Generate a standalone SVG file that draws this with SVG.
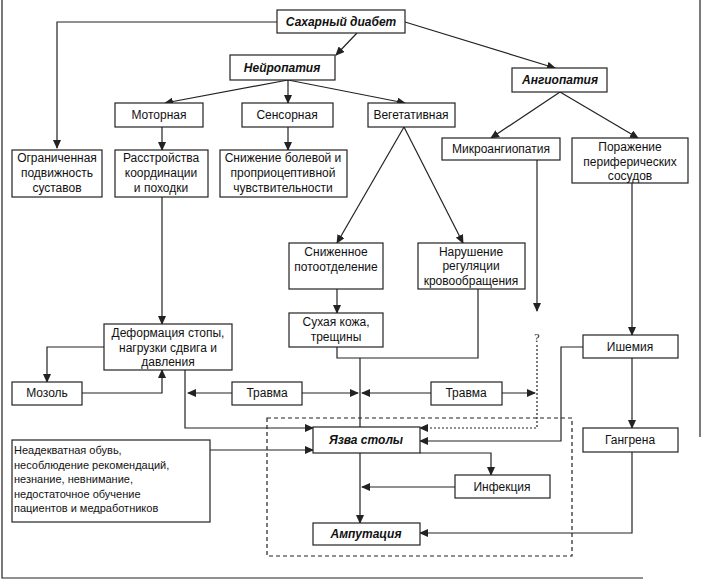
<svg xmlns="http://www.w3.org/2000/svg" width="703" height="581" viewBox="0 0 703 581">
<style>
.b{fill:#fff;stroke:#222;stroke-width:1.2}
.t{font-family:"Liberation Sans",Arial,sans-serif;font-size:12px;fill:#111;text-anchor:middle}
.bi{font-weight:bold;font-style:italic}
.l{text-anchor:start;font-size:11px}
.c{fill:none;stroke:#222;stroke-width:1.2}
.d{fill:none;stroke:#222;stroke-width:1.2;stroke-dasharray:4 3}
.ds{fill:none;stroke:#222;stroke-width:1.2;stroke-dasharray:2 2}
</style>
<defs>
<marker id="a" markerWidth="9" markerHeight="8" refX="8" refY="4" orient="auto" markerUnits="userSpaceOnUse">
<path d="M0,0 L9,4 L0,8 Z" fill="#222"/>
</marker>
</defs>
<rect width="703" height="581" fill="#fff"/>
<g id="frame" class="c">
<path d="M2,0 V578 H643"/>
<path d="M700,0 V437"/>
</g>
<rect x="267" y="418" width="305" height="138" class="d"/>
<g id="connectors">
<path class="c" d="M277,22 H57 V148" marker-end="url(#a)"/>
<path class="c" d="M357,33 L336,55" marker-end="url(#a)"/>
<path class="c" d="M405,22 L555,68" marker-end="url(#a)"/>
<path class="c" d="M288,80 L165,103" marker-end="url(#a)"/>
<path class="c" d="M288,80 V103" marker-end="url(#a)"/>
<path class="c" d="M288,80 L405,103" marker-end="url(#a)"/>
<path class="c" d="M162,127 V150" marker-end="url(#a)"/>
<path class="c" d="M288,127 V150" marker-end="url(#a)"/>
<path class="c" d="M560,92 L491,138" marker-end="url(#a)"/>
<path class="c" d="M560,92 L638,138" marker-end="url(#a)"/>
<path class="c" d="M404,127 L337,243" marker-end="url(#a)"/>
<path class="c" d="M404,127 L463,243" marker-end="url(#a)"/>
<path class="c" d="M337,289 V313" marker-end="url(#a)"/>
<path class="c" d="M537,160 V311" marker-end="url(#a)"/>
<path class="c" d="M632,183 V335" marker-end="url(#a)"/>
<path class="c" d="M632,358 V428" marker-end="url(#a)"/>
<path class="c" d="M162,197 V324" marker-end="url(#a)"/>
<path class="c" d="M104,347 H47 V382" marker-end="url(#a)"/>
<path class="c" d="M82,393 H162 V370" marker-end="url(#a)"/>
<path class="c" d="M185,370 V428 H313" marker-end="url(#a)"/>
<path class="c" d="M232,393 H188" marker-end="url(#a)"/>
<path class="c" d="M302,393 H358" marker-end="url(#a)"/>
<path class="c" d="M431,393 H362" marker-end="url(#a)"/>
<path class="c" d="M502,393 H535" marker-end="url(#a)"/>
<path class="c" d="M337,347 V358 H478 V289"/>
<path class="c" d="M360,358 V428"/>
<path class="ds" d="M537,345 V428 H420" marker-end="url(#a)"/>
<path class="c" d="M583,347 H561 V441 H420" marker-end="url(#a)"/>
<path class="c" d="M632,452 V533 H420" marker-end="url(#a)"/>
<path class="c" d="M210,450 H313" marker-end="url(#a)"/>
<path class="c" d="M360,453 V523" marker-end="url(#a)"/>
<path class="c" d="M420,453 H491 V475" marker-end="url(#a)"/>
<path class="c" d="M455,487 H362" marker-end="url(#a)"/>
</g>
<g id="n-diabet"><rect x="277" y="10" width="128" height="23" class="b"/><text x="341" y="26" class="t bi">Сахарный диабет</text></g>
<g id="n-neuro"><rect x="230" y="55" width="105" height="25" class="b"/><text x="282" y="72" class="t bi">Нейропатия</text></g>
<g id="n-angio"><rect x="512" y="68" width="95" height="24" class="b"/><text x="560" y="84" class="t bi">Ангиопатия</text></g>
<g id="n-motor"><rect x="115" y="103" width="88" height="24" class="b"/><text x="159" y="119" class="t">Моторная</text></g>
<g id="n-sensor"><rect x="242" y="103" width="91" height="24" class="b"/><text x="287" y="119" class="t">Сенсорная</text></g>
<g id="n-veget"><rect x="368" y="103" width="87" height="24" class="b"/><text x="411" y="119" class="t">Вегетативная</text></g>
<g id="n-ogr"><rect x="12" y="150" width="90" height="47" class="b"/><text class="t"><tspan x="57" y="162">Ограниченная</tspan><tspan x="57" y="177">подвижность</tspan><tspan x="57" y="192">суставов</tspan></text></g>
<g id="n-rasstr"><rect x="115" y="150" width="93" height="47" class="b"/><text class="t"><tspan x="161" y="162">Расстройства</tspan><tspan x="161" y="177">координации</tspan><tspan x="161" y="192">и походки</tspan></text></g>
<g id="n-snizh"><rect x="220" y="150" width="127" height="47" class="b"/><text class="t"><tspan x="283" y="162">Снижение болевой и</tspan><tspan x="283" y="177">проприоцептивной</tspan><tspan x="283" y="192">чувствительности</tspan></text></g>
<g id="n-micro"><rect x="442" y="138" width="118" height="22" class="b"/><text x="501" y="153" class="t">Микроангиопатия</text></g>
<g id="n-porazh"><rect x="572" y="138" width="116" height="45" class="b"/><text class="t"><tspan x="630" y="151">Поражение</tspan><tspan x="630" y="166">периферических</tspan><tspan x="630" y="180">сосудов</tspan></text></g>
<g id="n-pot"><rect x="289" y="243" width="94" height="46" class="b"/><text class="t"><tspan x="336" y="256">Сниженное</tspan><tspan x="336" y="271">потоотделение</tspan></text></g>
<g id="n-narush"><rect x="418" y="243" width="107" height="46" class="b"/><text class="t"><tspan x="471" y="256">Нарушение</tspan><tspan x="471" y="270">регуляции</tspan><tspan x="471" y="285">кровообращения</tspan></text></g>
<g id="n-suh"><rect x="289" y="313" width="94" height="34" class="b"/><text class="t"><tspan x="336" y="326">Сухая кожа,</tspan><tspan x="336" y="341">трещины</tspan></text></g>
<g id="n-q"><text x="537" y="342" class="t" style="font-family:'Liberation Serif',serif">?</text></g>
<g id="n-deform"><rect x="104" y="324" width="128" height="46" class="b"/><text class="t"><tspan x="168" y="337">Деформация стопы,</tspan><tspan x="168" y="352">нагрузки сдвига и</tspan><tspan x="168" y="366">давления</tspan></text></g>
<g id="n-ishem"><rect x="583" y="335" width="95" height="23" class="b"/><text x="630" y="351" class="t">Ишемия</text></g>
<g id="n-mozol"><rect x="12" y="382" width="70" height="23" class="b"/><text x="47" y="397" class="t">Мозоль</text></g>
<g id="n-trav1"><rect x="232" y="382" width="70" height="23" class="b"/><text x="267" y="397" class="t">Травма</text></g>
<g id="n-trav2"><rect x="431" y="382" width="71" height="23" class="b"/><text x="466" y="397" class="t">Травма</text></g>
<g id="n-yazva"><rect x="313" y="427" width="107" height="26" class="b"/><text x="366" y="444" class="t bi">Язва столы</text></g>
<g id="n-gangr"><rect x="583" y="428" width="95" height="24" class="b"/><text x="630" y="444" class="t">Гангрена</text></g>
<g id="n-neadekv"><rect x="12" y="440" width="198" height="82" class="b"/><text class="t l"><tspan x="14" y="454">Неадекватная обувь,</tspan><tspan x="14" y="469">несоблюдение рекомендаций,</tspan><tspan x="14" y="483">незнание, невнимание,</tspan><tspan x="14" y="498">недостаточное обучение</tspan><tspan x="14" y="512">пациентов и медработников</tspan></text></g>
<g id="n-infek"><rect x="455" y="475" width="95" height="23" class="b"/><text x="502" y="491" class="t">Инфекция</text></g>
<g id="n-amput"><rect x="313" y="523" width="107" height="22" class="b"/><text x="366" y="538" class="t bi">Ампутация</text></g>
</svg>
